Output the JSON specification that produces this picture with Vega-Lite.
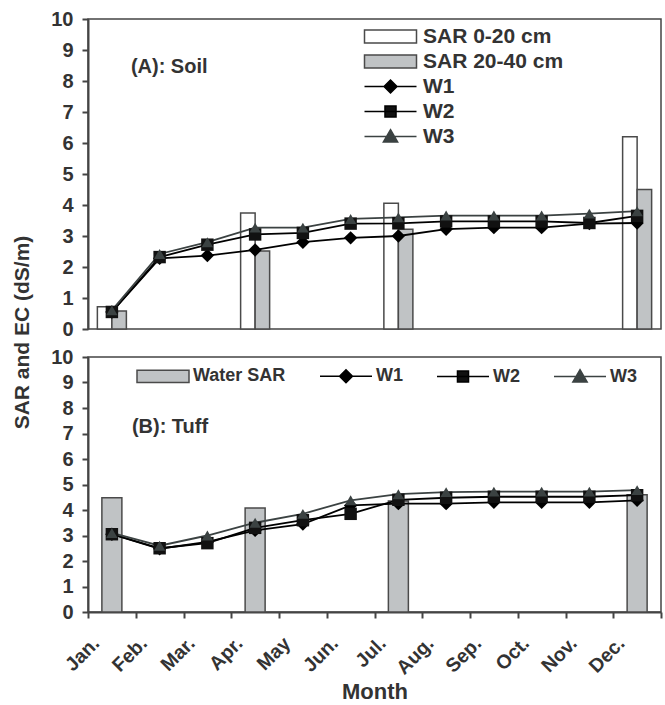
{
  "$schema": "https://vega.github.io/schema/vega-lite/v6.json",
  "background": "white",
  "padding": {"left": 10, "top": 8, "right": 3, "bottom": 5},
  "spacing": 28,
  "bounds": "flush",
  "resolve": {
    "scale": {"x": "independent", "y": "independent", "xOffset": "independent", "fill": "independent", "stroke": "independent", "shape": "independent", "size": "independent"},
    "legend": {"fill": "independent"}
  },
  "config": {
    "font": "Liberation Sans",
    "view": {"stroke": "#444444", "strokeWidth": 1.5},
    "axis": {
      "labelFont": "Liberation Sans", "labelFontWeight": "bold", "labelColor": "#333333",
      "titleFont": "Liberation Sans", "titleFontWeight": "bold", "titleColor": "#333333",
      "domainColor": "#444444", "tickColor": "#444444", "domainWidth": 2, "tickWidth": 2, "grid": false, "labelOverlap": false
    },
    "legend": {
      "labelFont": "Liberation Sans", "labelFontWeight": "bold", "labelColor": "#333333",
      "symbolSize": 169, "symbolStrokeWidth": 1.5, "padding": 0
    }
  },
  "datasets": {
    "soil_bars": [
      {"month": "Jan.", "series": "SAR 0-20 cm", "value": 0.72},
      {"month": "Jan.", "series": "SAR 20-40 cm", "value": 0.58},
      {"month": "Apr.", "series": "SAR 0-20 cm", "value": 3.74},
      {"month": "Apr.", "series": "SAR 20-40 cm", "value": 2.52},
      {"month": "Jul.", "series": "SAR 0-20 cm", "value": 4.06},
      {"month": "Jul.", "series": "SAR 20-40 cm", "value": 3.22},
      {"month": "Dec.", "series": "SAR 0-20 cm", "value": 6.2},
      {"month": "Dec.", "series": "SAR 20-40 cm", "value": 4.5}
    ],
    "soil_lines": [
      {"month": "Jan.", "series": "W1", "value": 0.55},
      {"month": "Feb.", "series": "W1", "value": 2.28},
      {"month": "Mar.", "series": "W1", "value": 2.37},
      {"month": "Apr.", "series": "W1", "value": 2.55},
      {"month": "May", "series": "W1", "value": 2.8},
      {"month": "Jun.", "series": "W1", "value": 2.94},
      {"month": "Jul.", "series": "W1", "value": 3.0},
      {"month": "Aug.", "series": "W1", "value": 3.22},
      {"month": "Sep.", "series": "W1", "value": 3.27},
      {"month": "Oct.", "series": "W1", "value": 3.27},
      {"month": "Nov.", "series": "W1", "value": 3.4},
      {"month": "Dec.", "series": "W1", "value": 3.42},
      {"month": "Jan.", "series": "W2", "value": 0.55},
      {"month": "Feb.", "series": "W2", "value": 2.32},
      {"month": "Mar.", "series": "W2", "value": 2.72},
      {"month": "Apr.", "series": "W2", "value": 3.05},
      {"month": "May", "series": "W2", "value": 3.1},
      {"month": "Jun.", "series": "W2", "value": 3.4},
      {"month": "Jul.", "series": "W2", "value": 3.41},
      {"month": "Aug.", "series": "W2", "value": 3.47},
      {"month": "Sep.", "series": "W2", "value": 3.47},
      {"month": "Oct.", "series": "W2", "value": 3.47},
      {"month": "Nov.", "series": "W2", "value": 3.42},
      {"month": "Dec.", "series": "W2", "value": 3.65},
      {"month": "Jan.", "series": "W3", "value": 0.6},
      {"month": "Feb.", "series": "W3", "value": 2.42},
      {"month": "Mar.", "series": "W3", "value": 2.8},
      {"month": "Apr.", "series": "W3", "value": 3.27},
      {"month": "May", "series": "W3", "value": 3.27},
      {"month": "Jun.", "series": "W3", "value": 3.55},
      {"month": "Jul.", "series": "W3", "value": 3.6},
      {"month": "Aug.", "series": "W3", "value": 3.66},
      {"month": "Sep.", "series": "W3", "value": 3.66},
      {"month": "Oct.", "series": "W3", "value": 3.66},
      {"month": "Nov.", "series": "W3", "value": 3.72},
      {"month": "Dec.", "series": "W3", "value": 3.8}
    ],
    "tuff_bars": [
      {"month": "Jan.", "series": "Water SAR", "value": 4.48},
      {"month": "Apr.", "series": "Water SAR", "value": 4.08},
      {"month": "Jul.", "series": "Water SAR", "value": 4.35},
      {"month": "Dec.", "series": "Water SAR", "value": 4.6}
    ],
    "tuff_lines": [
      {"month": "Jan.", "series": "W1", "value": 3.05},
      {"month": "Feb.", "series": "W1", "value": 2.48},
      {"month": "Mar.", "series": "W1", "value": 2.75},
      {"month": "Apr.", "series": "W1", "value": 3.2},
      {"month": "May", "series": "W1", "value": 3.45},
      {"month": "Jun.", "series": "W1", "value": 4.18},
      {"month": "Jul.", "series": "W1", "value": 4.25},
      {"month": "Aug.", "series": "W1", "value": 4.25},
      {"month": "Sep.", "series": "W1", "value": 4.3},
      {"month": "Oct.", "series": "W1", "value": 4.3},
      {"month": "Nov.", "series": "W1", "value": 4.3},
      {"month": "Dec.", "series": "W1", "value": 4.38},
      {"month": "Jan.", "series": "W2", "value": 3.05},
      {"month": "Feb.", "series": "W2", "value": 2.5},
      {"month": "Mar.", "series": "W2", "value": 2.7},
      {"month": "Apr.", "series": "W2", "value": 3.3},
      {"month": "May", "series": "W2", "value": 3.6},
      {"month": "Jun.", "series": "W2", "value": 3.85},
      {"month": "Jul.", "series": "W2", "value": 4.4},
      {"month": "Aug.", "series": "W2", "value": 4.48},
      {"month": "Sep.", "series": "W2", "value": 4.52},
      {"month": "Oct.", "series": "W2", "value": 4.52},
      {"month": "Nov.", "series": "W2", "value": 4.52},
      {"month": "Dec.", "series": "W2", "value": 4.58},
      {"month": "Jan.", "series": "W3", "value": 3.1},
      {"month": "Feb.", "series": "W3", "value": 2.6},
      {"month": "Mar.", "series": "W3", "value": 3.0},
      {"month": "Apr.", "series": "W3", "value": 3.5},
      {"month": "May", "series": "W3", "value": 3.85},
      {"month": "Jun.", "series": "W3", "value": 4.38},
      {"month": "Jul.", "series": "W3", "value": 4.62},
      {"month": "Aug.", "series": "W3", "value": 4.7},
      {"month": "Sep.", "series": "W3", "value": 4.72},
      {"month": "Oct.", "series": "W3", "value": 4.72},
      {"month": "Nov.", "series": "W3", "value": 4.72},
      {"month": "Dec.", "series": "W3", "value": 4.78}
    ]
  },
  "vconcat": [
    {
      "width": 573,
      "height": 310,
      "layer": [
        {
          "data": {"name": "soil_bars"},
          "mark": {"type": "bar", "stroke": "#4a4a4a", "strokeWidth": 1.5},
          "encoding": {
            "x": {"field": "month", "type": "nominal",
              "scale": {"domain": ["Jan.","Feb.","Mar.","Apr.","May","Jun.","Jul.","Aug.","Sep.","Oct.","Nov.","Dec."], "paddingInner": 0, "paddingOuter": 0},
              "axis": {"labels": false, "ticks": false, "domain": false, "title": null}},
            "xOffset": {"field": "series", "type": "nominal", "scale": {"domain": ["SAR 0-20 cm", "SAR 20-40 cm"], "paddingInner": 0, "paddingOuter": 0.646}},
            "y": {"field": "value", "type": "quantitative",
              "scale": {"domain": [0, 10], "nice": false},
              "axis": {"values": [0,1,2,3,4,5,6,7,8,9,10], "tickCount": 11, "tickSize": 6, "labelPadding": 9, "labelFontSize": 20,
                "title": "SAR and EC (dS/m)", "titleFontSize": 21, "titleX": -66, "titleY": 313, "titleAngle": -90, "titleAlign": "center", "titleBaseline": "middle"}},
            "fill": {"field": "series", "type": "nominal",
              "scale": {"domain": ["SAR 0-20 cm", "SAR 20-40 cm", "W1", "W2", "W3"], "range": ["#ffffff", "#c0c3c5", "#000000", "#111111", "#3b4242"]},
              "legend": {"title": null, "orient": "none", "legendX": 292, "legendY": 7, "direction": "vertical", "columns": 1,
                "labelFontSize": 21, "labelOffset": 22, "rowPadding": 3,
                "encoding": {"symbols": {
                  "shape": {"value": {"expr": "datum.value === 'W1' ? 'M-4,0H4M-1,0L0,-1L1,0L0,1Z' : datum.value === 'W2' ? 'M-4,0H4M-0.85,-0.85H0.85V0.85H-0.85Z' : datum.value === 'W3' ? 'M-4,0H4M0,-1.05L1.1,0.85H-1.1Z' : 'M-4,-1H4V1H-4Z'"}},
                  "stroke": {"value": {"expr": "datum.value === 'W3' ? '#3b4242' : (datum.value === 'W1' || datum.value === 'W2') ? '#000000' : '#4a4a4a'"}},
                  "strokeWidth": {"value": 1.5},
                  "opacity": {"value": 1}
                }}}}
          }
        },
        {
          "data": {"name": "soil_lines"},
          "mark": {"type": "line", "strokeWidth": 1.8},
          "encoding": {
            "x": {"field": "month", "type": "nominal"},
            "y": {"field": "value", "type": "quantitative"},
            "stroke": {"field": "series", "type": "nominal", "scale": {"domain": ["W1", "W2", "W3"], "range": ["#000000", "#000000", "#3b4242"]}, "legend": null}
          }
        },
        {
          "data": {"name": "soil_lines"},
          "mark": {"type": "point", "filled": true, "opacity": 1},
          "encoding": {
            "x": {"field": "month", "type": "nominal"},
            "y": {"field": "value", "type": "quantitative"},
            "fill": {"field": "series", "type": "nominal"},
            "shape": {"field": "series", "type": "nominal", "scale": {"domain": ["W1", "W2", "W3"], "range": ["diamond", "square", "triangle-up"]}, "legend": null},
            "size": {"field": "series", "type": "nominal", "scale": {"domain": ["W1", "W2", "W3"], "range": [180, 130, 190]}, "legend": null}
          }
        },
        {
          "data": {"values": [{}]},
          "mark": {"type": "text", "align": "left", "baseline": "middle", "dx": 19, "fontSize": 20, "fontWeight": "bold", "color": "#333333", "font": "Liberation Sans"},
          "encoding": {
            "x": {"datum": "Jan."},
            "y": {"datum": 8.45},
            "text": {"value": "(A): Soil"}
          }
        }
      ]
    },
    {
      "width": 573,
      "height": 255,
      "layer": [
        {
          "data": {"name": "tuff_bars"},
          "mark": {"type": "bar", "size": 20, "stroke": "#4a4a4a", "strokeWidth": 1.5},
          "encoding": {
            "x": {"field": "month", "type": "nominal",
              "scale": {"domain": ["Jan.","Feb.","Mar.","Apr.","May","Jun.","Jul.","Aug.","Sep.","Oct.","Nov.","Dec."], "paddingInner": 0, "paddingOuter": 0},
              "axis": {"title": "Month", "titleFontSize": 22, "labelAngle": -45, "labelAlign": "right", "labelBaseline": "middle", "labelFontSize": 19.5, "labelPadding": 22, "labelOffset": -16, "tickBand": "extent", "tickSize": 6, "titlePadding": 4}},
            "y": {"field": "value", "type": "quantitative",
              "scale": {"domain": [0, 10], "nice": false},
              "axis": {"values": [0,1,2,3,4,5,6,7,8,9,10], "tickCount": 11, "tickSize": 6, "labelPadding": 9, "labelFontSize": 20, "title": null}},
            "fill": {"field": "series", "type": "nominal",
              "scale": {"domain": ["Water SAR", "W1", "W2", "W3"], "range": ["#c0c3c5", "#000000", "#111111", "#3b4242"]},
              "legend": {"title": null, "orient": "none", "legendX": 66, "legendY": 10, "direction": "horizontal", "columns": 4,
                "labelFontSize": 18, "labelOffset": 21, "columnPadding": 31,
                "encoding": {"symbols": {
                  "shape": {"value": {"expr": "datum.value === 'W1' ? 'M-4,0H4M-1,0L0,-1L1,0L0,1Z' : datum.value === 'W2' ? 'M-4,0H4M-0.85,-0.85H0.85V0.85H-0.85Z' : datum.value === 'W3' ? 'M-4,0H4M0,-1.05L1.1,0.85H-1.1Z' : 'M-4,-0.95H4V0.95H-4Z'"}},
                  "stroke": {"value": {"expr": "datum.value === 'W3' ? '#3b4242' : (datum.value === 'W1' || datum.value === 'W2') ? '#000000' : '#4a4a4a'"}},
                  "strokeWidth": {"value": 1.5},
                  "opacity": {"value": 1}
                }}}}
          }
        },
        {
          "data": {"name": "tuff_lines"},
          "mark": {"type": "line", "strokeWidth": 1.8},
          "encoding": {
            "x": {"field": "month", "type": "nominal"},
            "y": {"field": "value", "type": "quantitative"},
            "stroke": {"field": "series", "type": "nominal", "scale": {"domain": ["W1", "W2", "W3"], "range": ["#000000", "#000000", "#3b4242"]}, "legend": null}
          }
        },
        {
          "data": {"name": "tuff_lines"},
          "mark": {"type": "point", "filled": true, "opacity": 1},
          "encoding": {
            "x": {"field": "month", "type": "nominal"},
            "y": {"field": "value", "type": "quantitative"},
            "fill": {"field": "series", "type": "nominal"},
            "shape": {"field": "series", "type": "nominal", "scale": {"domain": ["W1", "W2", "W3"], "range": ["diamond", "square", "triangle-up"]}, "legend": null},
            "size": {"field": "series", "type": "nominal", "scale": {"domain": ["W1", "W2", "W3"], "range": [180, 130, 190]}, "legend": null}
          }
        },
        {
          "data": {"values": [{}]},
          "mark": {"type": "text", "align": "left", "baseline": "middle", "dx": 20, "fontSize": 20, "fontWeight": "bold", "color": "#333333", "font": "Liberation Sans"},
          "encoding": {
            "x": {"datum": "Jan."},
            "y": {"datum": 7.25},
            "text": {"value": "(B): Tuff"}
          }
        }
      ]
    }
  ]
}
